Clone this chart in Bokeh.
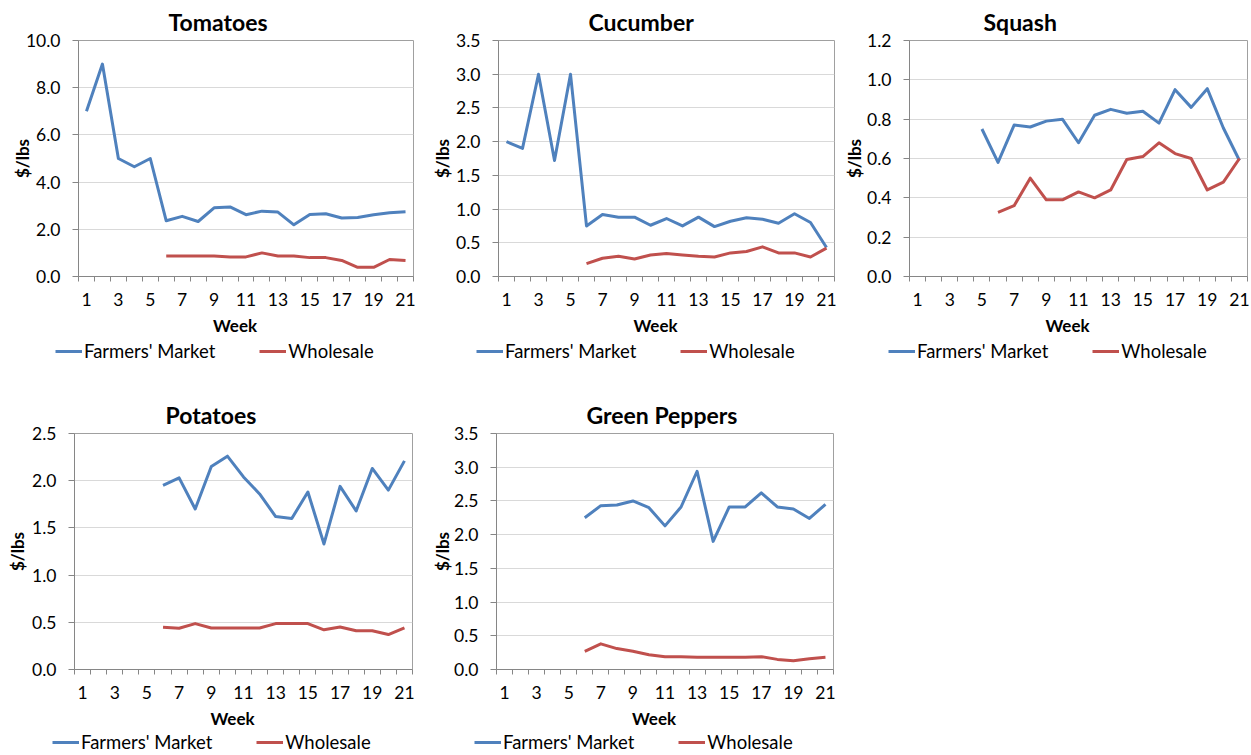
import numpy as np
from bokeh.plotting import figure
from bokeh.models import Range1d, FixedTicker, NumeralTickFormatter, Legend, LegendItem
from bokeh.layouts import column, row
from bokeh.embed import file_html
from bokeh.resources import INLINE

# ---------------- data ----------------
weeks = list(range(1, 22))
week_labels = [1, 3, 5, 7, 9, 11, 13, 15, 17, 19, 21]
week_bounds = [w + 0.5 for w in range(0, 22)]

tomatoes_fm = [7.0, 9.0, 5.0, 4.65, 5.0, 2.36, 2.55, 2.33, 2.91, 2.95, 2.62,
               2.77, 2.73, 2.19, 2.63, 2.66, 2.48, 2.5, 2.62, 2.7, 2.74]
tomatoes_ws = [None, None, None, None, None, 0.87, 0.87, 0.87, 0.87, 0.83, 0.83,
               1.0, 0.87, 0.87, 0.8, 0.8, 0.68, 0.39, 0.39, 0.72, 0.68]

cucumber_fm = [2.0, 1.9, 3.0, 1.72, 3.0, 0.75, 0.92, 0.88, 0.88, 0.76, 0.86,
               0.75, 0.88, 0.74, 0.82, 0.87, 0.85, 0.79, 0.93, 0.8, 0.43]
cucumber_ws = [None, None, None, None, None, 0.19, 0.27, 0.3, 0.26, 0.32, 0.34,
               0.32, 0.3, 0.29, 0.35, 0.37, 0.44, 0.35, 0.35, 0.29, 0.42]

squash_fm = [None, None, None, None, 0.75, 0.58, 0.77, 0.76, 0.79, 0.8, 0.68,
             0.82, 0.85, 0.83, 0.84, 0.78, 0.95, 0.86, 0.955, 0.755, 0.59]
squash_ws = [None, None, None, None, None, 0.326, 0.36, 0.5, 0.39, 0.39, 0.43,
             0.4, 0.44, 0.595, 0.61, 0.68, 0.625, 0.6, 0.44, 0.48, 0.6]

potatoes_fm = [None, None, None, None, None, 1.95, 2.03, 1.7, 2.15, 2.26, 2.04,
               1.86, 1.62, 1.6, 1.88, 1.33, 1.94, 1.68, 2.13, 1.9, 2.21]
potatoes_ws = [None, None, None, None, None, 0.447, 0.437, 0.486, 0.44, 0.44, 0.44,
               0.44, 0.486, 0.486, 0.486, 0.42, 0.45, 0.41, 0.41, 0.37, 0.44]

peppers_fm = [None, None, None, None, None, 2.25, 2.43, 2.44, 2.5, 2.4, 2.13,
              2.41, 2.94, 1.9, 2.41, 2.41, 2.62, 2.41, 2.38, 2.24, 2.45]
peppers_ws = [None, None, None, None, None, 0.27, 0.38, 0.31, 0.27, 0.22, 0.19,
              0.19, 0.18, 0.18, 0.18, 0.18, 0.19, 0.15, 0.13, 0.16, 0.18]

tomatoes_yticks = [0, 2, 4, 6, 8, 10]
cucumber_yticks = [0, 0.5, 1.0, 1.5, 2.0, 2.5, 3.0, 3.5]
squash_yticks = [0, 0.2, 0.4, 0.6, 0.8, 1.0, 1.2]
potatoes_yticks = [0, 0.5, 1.0, 1.5, 2.0, 2.5]
peppers_yticks = [0, 0.5, 1.0, 1.5, 2.0, 2.5, 3.0, 3.5]

series_names = ["Farmers' Market", "Wholesale"]
x_title = "Week"
y_title = "$/lbs"

# ---------------- style ----------------
FONT = "Lato"
BLUE = "#4F81BD"
RED = "#C0504D"
AXIS = "#868686"
GRID = "#D9D9D9"
LW = 3


def arr(v):
    return np.array([np.nan if x is None else x for x in v], dtype=float)


def make(title, fm, ws, yticks, w, h, mbl, mbr, mbt, mbb, toff, ylab_so,
         strip_h, legx, legy):
    p = figure(width=w, height=h, x_range=Range1d(0.5, 21.5),
               y_range=Range1d(yticks[0], yticks[-1]),
               output_backend="svg", toolbar_location=None,
               min_border_left=mbl, min_border_right=mbr,
               min_border_top=mbt, min_border_bottom=mbb)
    p.outline_line_color = "#A0A0A0"

    p.title.text = title
    p.title.align = "left"
    p.title.offset = toff
    p.title.text_font = FONT
    p.title.text_font_style = "bold"
    p.title.text_font_size = "23px"
    p.title.text_color = "black"

    p.line(weeks, arr(fm), line_color=BLUE, line_width=LW, line_join="round")
    p.line(weeks, arr(ws), line_color=RED, line_width=LW, line_join="round")

    xa = p.xaxis[0]
    xa.ticker = FixedTicker(ticks=week_labels, minor_ticks=week_bounds)
    xa.major_tick_line_color = None
    xa.major_tick_out = 0
    xa.major_tick_in = 0
    xa.minor_tick_line_color = AXIS
    xa.minor_tick_out = 5
    xa.minor_tick_in = 0
    xa.axis_line_color = AXIS
    xa.major_label_standoff = 11
    xa.major_label_text_font = FONT
    xa.major_label_text_font_size = "17.5px"
    xa.major_label_text_color = "black"

    ya = p.yaxis[0]
    ya.ticker = FixedTicker(ticks=yticks)
    ya.formatter = NumeralTickFormatter(format="0.0")
    ya.axis_line_color = AXIS
    ya.major_tick_line_color = AXIS
    ya.major_tick_out = 6
    ya.major_tick_in = 0
    ya.minor_tick_line_color = None
    ya.major_label_standoff = 12
    ya.major_label_text_font = FONT
    ya.major_label_text_font_size = "17.5px"
    ya.major_label_text_color = "black"
    ya.axis_label = y_title
    ya.axis_label_text_font = FONT
    ya.axis_label_text_font_size = "17px"
    ya.axis_label_text_font_style = "bold"
    ya.axis_label_text_color = "black"
    ya.axis_label_standoff = ylab_so

    p.xgrid.grid_line_color = None
    p.ygrid.grid_line_color = GRID
    p.ygrid.grid_line_width = 1

    # strip below the chart: x-axis title + legend
    q = figure(width=w, height=strip_h, x_range=Range1d(-3, -2), y_range=Range1d(-3, -2),
               x_axis_type=None, y_axis_type=None,
               output_backend="svg", toolbar_location=None,
               min_border=0)
    q.outline_line_color = None
    q.xgrid.grid_line_color = None
    q.ygrid.grid_line_color = None
    q.title.text = x_title
    q.title.align = "left"
    q.title.offset = mbl + (w - mbl - mbr) / 2 - 33
    q.title.text_font = FONT
    q.title.text_font_style = "bold"
    q.title.text_font_size = "17px"
    q.title.text_color = "black"
    q.title.standoff = 2
    # same series, drawn outside the strip's view, used only as legend keys
    k1 = q.line(weeks, arr(fm), line_color=BLUE, line_width=LW)
    k2 = q.line(weeks, arr(ws), line_color=RED, line_width=LW)
    leg = Legend(items=[LegendItem(label=series_names[0], renderers=[k1]),
                        LegendItem(label=series_names[1], renderers=[k2])],
                 orientation="horizontal", location=(legx, legy),
                 border_line_color=None, background_fill_alpha=0,
                 label_text_font=FONT, label_text_font_size="18.5px",
                 label_text_color="black",
                 glyph_width=27, glyph_height=20, label_height=20,
                 label_standoff=2, spacing=44, padding=0, margin=0)
    q.add_layout(leg)
    return column(p, row(q))


c1 = make("Tomatoes", tomatoes_fm, tomatoes_ws, tomatoes_yticks,
          420, 311, 78, 7, 39, 35, 90, -10, 53, 55, 2)
c2 = make("Cucumber", cucumber_fm, cucumber_ws, cucumber_yticks,
          420, 311, 78, 6, 39, 35, 90, 0, 53, 56, 2)
c3 = make("Squash", squash_fm, squash_ws, squash_yticks,
          410, 311, 69, 3, 39, 35, 74, -1, 53, 48, 2)
c4 = make("Potatoes", potatoes_fm, potatoes_ws, potatoes_yticks,
          420, 340, 74, 8, 69, 35, 91, 1, 50, 52, 1)
c5 = make("Green Peppers", peppers_fm, peppers_ws, peppers_yticks,
          420, 340, 76, 7, 69, 35, 90, -2, 50, 54, 1)

layout = column(row(c1, c2, c3), row(c4, c5))

open("out.html", "w").write(file_html(layout, INLINE))
